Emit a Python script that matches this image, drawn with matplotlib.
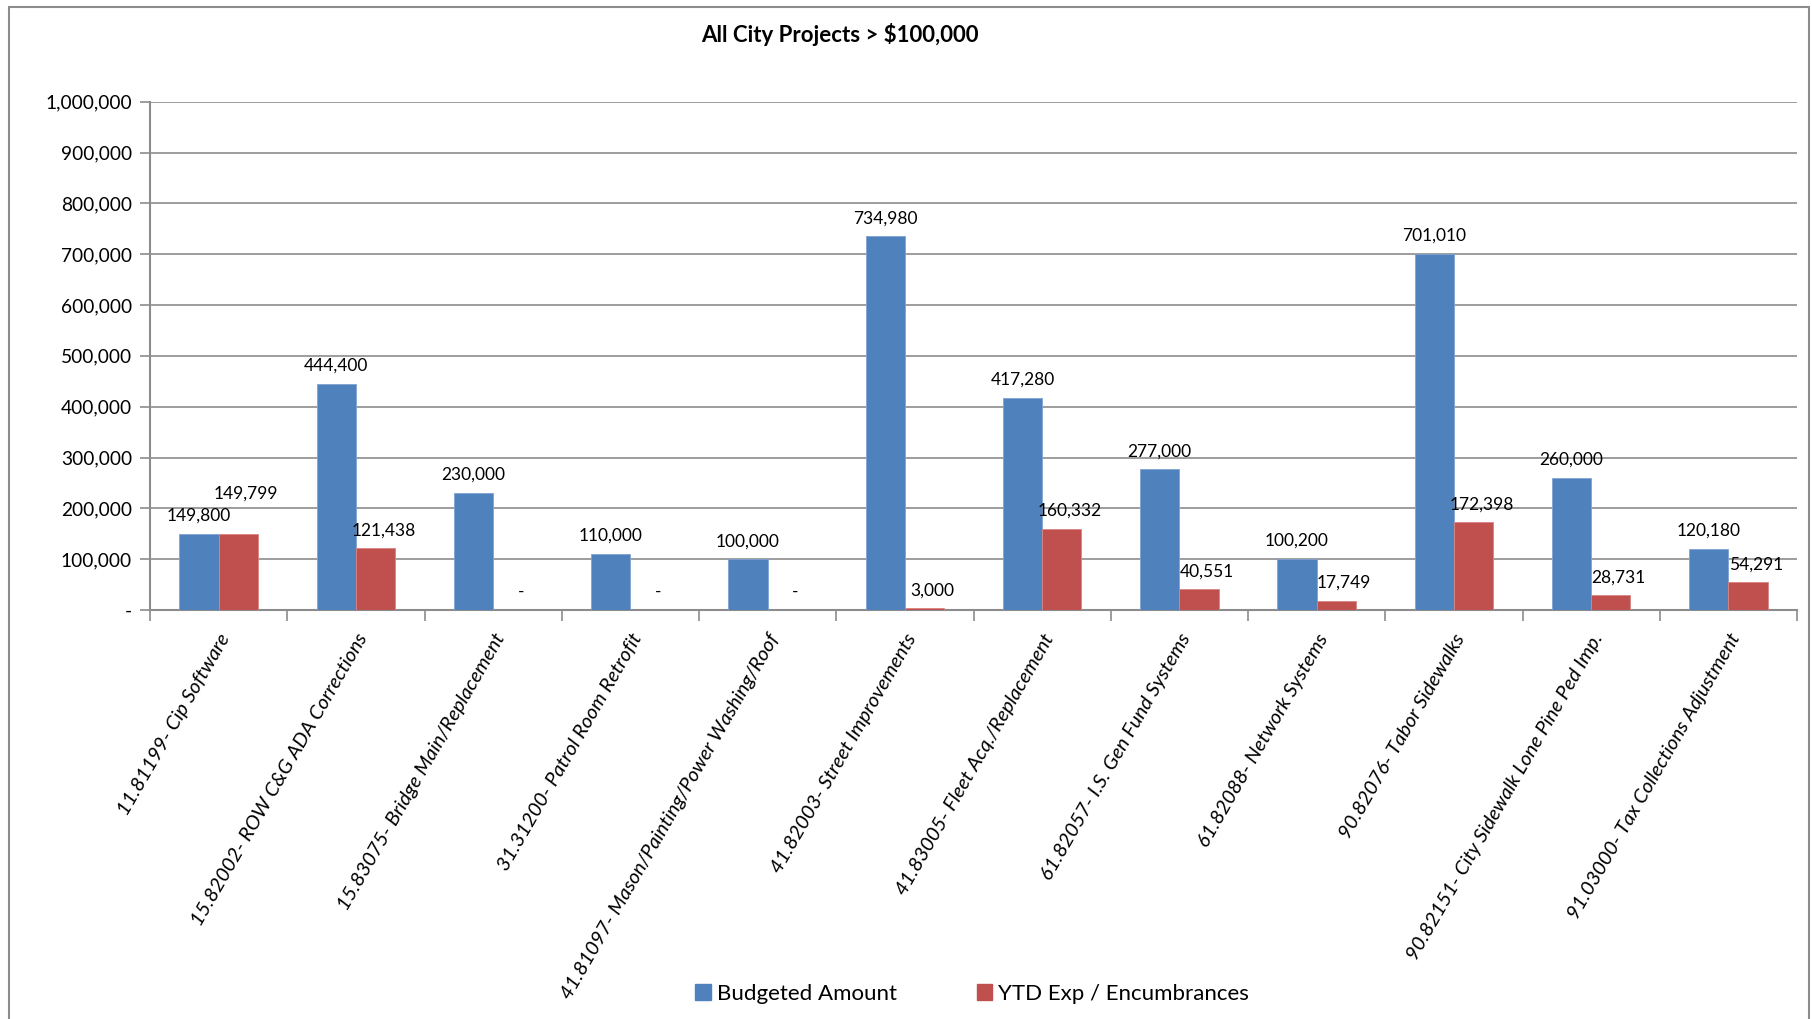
import matplotlib
matplotlib.use("Agg")
import matplotlib.pyplot as plt
from matplotlib.patches import Rectangle, Patch
from matplotlib.ticker import FuncFormatter, MultipleLocator
import numpy as np

plt.rcParams["font.family"] = ["Lato", "DejaVu Sans"]

# chart data
projects = [
    "11.81199- Cip Software",
    "15.82002- ROW C&G ADA Corrections",
    "15.83075- Bridge Main/Replacement",
    "31.31200- Patrol Room Retrofit",
    "41.81097- Mason/Painting/Power Washing/Roof",
    "41.82003- Street Improvements",
    "41.83005- Fleet Acq./Replacement",
    "61.82057- I.S. Gen Fund Systems",
    "61.82088- Network Systems",
    "90.82076- Tabor Sidewalks",
    "90.82151- City Sidewalk Lone Pine Ped Imp.",
    "91.03000- Tax Collections Adjustment",
]
budgeted = [149800, 444400, 230000, 110000, 100000, 734980,
            417280, 277000, 100200, 701010, 260000, 120180]
ytd_exp = [149799, 121438, 0, 0, 0, 3000,
           160332, 40551, 17749, 172398, 28731, 54291]

BLUE = "#4F81BD"
RED = "#C0504D"
GRID = "#8c8c8c"

W, H = 1812, 1019
fig = plt.figure(figsize=(W / 100, H / 100), dpi=100)

# outer chart border (Excel chart area)
fig.patches.append(Rectangle((9 / W, -0.02), (1809 - 9) / W, 1 - 7 / H + 0.02,
                             transform=fig.transFigure, fill=False,
                             edgecolor=GRID, linewidth=1.5))

left, right, top, base = 150, 1797, 101.7, 610
ax = fig.add_axes([left / W, 1 - base / H, (right - left) / W, (base - top) / H])

x = np.arange(len(projects))
bw = 1 / 3.5
ax.bar(x - bw / 2, budgeted, bw, color=BLUE, edgecolor="#7ea3d3", linewidth=0.6,
       label="Budgeted Amount", zorder=3)
ax.bar(x + bw / 2, ytd_exp, bw, color=RED, edgecolor="#d98583", linewidth=0.6,
       label="YTD Exp / Encumbrances", zorder=3)


def fmt(v):
    return "-" if v == 0 else f"{v:,.0f}"


for i in range(len(projects)):
    ax.annotate(fmt(budgeted[i]), (x[i] - bw / 2, budgeted[i]),
                xytext=(0, 18), textcoords="offset pixels",
                ha="center", va="center", fontsize=12.5)
    dy = 18
    if abs(budgeted[i] - ytd_exp[i]) < 30000:
        dy = 40  # nudged up so it does not sit on the blue label
    ax.annotate(fmt(ytd_exp[i]), (x[i] + bw / 2, ytd_exp[i]),
                xytext=(8, dy), textcoords="offset pixels",
                ha="center", va="center", fontsize=12.5)

ax.set_xlim(-0.5, len(projects) - 0.5)
ax.set_ylim(0, 1000000)
ax.yaxis.set_major_locator(MultipleLocator(100000))
ax.yaxis.set_major_formatter(FuncFormatter(lambda v, p: fmt(v)))
ax.grid(axis="y", color=GRID, linewidth=1.2, zorder=0)

ax.set_xticks(np.arange(len(projects) + 1) - 0.5)
ax.set_xticklabels([])
ax.set_xticks(x, minor=True)
ax.set_xticklabels(projects, minor=True, rotation=60, ha="right",
                   rotation_mode="anchor", fontstyle="italic", fontsize=14.5)
ax.tick_params(axis="x", which="major", length=8, color=GRID, width=1.2)
ax.tick_params(axis="x", which="minor", length=0, pad=15)
ax.tick_params(axis="y", length=7, color=GRID, width=1.2, labelsize=13.8, pad=6)

for s in ("top", "right"):
    ax.spines[s].set_visible(False)
for s in ("left", "bottom"):
    ax.spines[s].set_color(GRID)
    ax.spines[s].set_linewidth(1.5)

fig.text(840 / W, 1 - 35 / H, "All City Projects > $100,000", ha="center",
         va="center", fontsize=16, fontweight="bold")

handles = [Patch(color=BLUE), Patch(color=RED)]
fig.legend(handles, ["Budgeted Amount", "YTD Exp / Encumbrances"],
           loc="center", bbox_to_anchor=(972 / W, 1 - 994 / H), ncol=2,
           frameon=False, fontsize=16, handlelength=0.7, handleheight=0.7,
           handletextpad=0.25, columnspacing=3.6)

fig.savefig("out.png", dpi=100)
